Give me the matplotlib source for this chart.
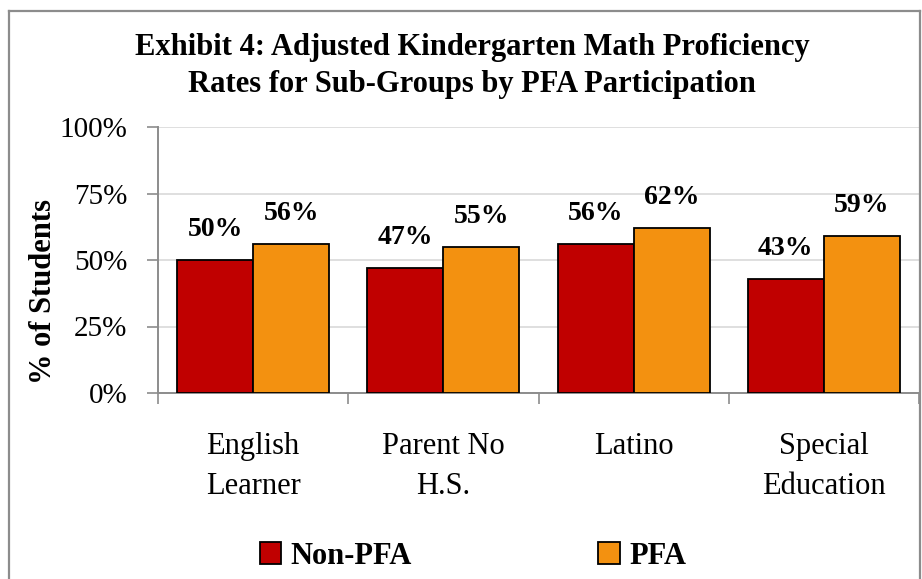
import matplotlib
matplotlib.use("Agg")
import matplotlib.pyplot as plt
import numpy as np
from matplotlib.lines import Line2D

categories = ["English\nLearner", "Parent No\nH.S.", "Latino", "Special\nEducation"]
series_names = ["Non-PFA", "PFA"]
non_pfa = [50, 47, 56, 43]
pfa = [56, 55, 62, 59]
y_ticks = [0, 25, 50, 75, 100]
title = "Exhibit 4: Adjusted Kindergarten Math Proficiency\nRates for Sub-Groups by PFA Participation"
y_label = "% of Students"

plt.rcParams['font.family'] = ['Liberation Serif', 'DejaVu Serif']

W, H = 922, 579
fig = plt.figure(figsize=(W / 100, H / 100), dpi=100)
fig.patch.set_facecolor("white")

# chart border
bc = "#8c8c8c"
fig.add_artist(Line2D([8.5 / W, 8.5 / W], [0, 1 - 10.5 / H], transform=fig.transFigure, color=bc, lw=1.6))
fig.add_artist(Line2D([8.5 / W, 920 / W], [1 - 10.5 / H, 1 - 10.5 / H], transform=fig.transFigure, color=bc, lw=1.6))
fig.add_artist(Line2D([920 / W, 920 / W], [0, 1 - 10.5 / H], transform=fig.transFigure, color=bc, lw=1.6))

ax = fig.add_axes([158 / W, 1 - 393 / H, (919 - 158) / W, (393 - 127) / H])

colors = ["#C00000", "#F39110"]
x = np.arange(len(categories))
bw = 0.4
bars1 = ax.bar(x - bw / 2, non_pfa, bw, color=colors[0], edgecolor="black", linewidth=1.3, label=series_names[0], zorder=3)
bars2 = ax.bar(x + bw / 2, pfa, bw, color=colors[1], edgecolor="black", linewidth=1.3, label=series_names[1], zorder=3)

for bars, vals in ((bars1, non_pfa), (bars2, pfa)):
    for b, v in zip(bars, vals):
        ax.annotate(f"{v}%", (b.get_x() + b.get_width() / 2, v), xytext=(0, 13), textcoords="offset points",
                    ha="center", va="bottom", fontsize=20, fontweight="bold")

ax.set_xlim(-0.5, len(categories) - 0.5)
ax.set_ylim(0, 100)
ax.set_yticks(y_ticks)
ax.set_yticklabels([f"{t}%" for t in y_ticks], fontsize=21)
ax.yaxis.grid(True, color="#d9d9d9", lw=1.2, zorder=0)
ax.set_axisbelow(True)

ax.set_xticks(np.arange(len(categories) + 1) - 0.5)
ax.set_xticklabels([])
ax.set_xticks(x, minor=True)
ax.set_xticklabels(categories, minor=True, fontsize=22, linespacing=1.5)
ax.tick_params(axis="x", which="minor", length=0, pad=28)
ax.tick_params(axis="x", which="major", length=8, color=bc, width=1.2)
ax.tick_params(axis="y", length=8, color=bc, width=1.2, pad=14)

for s in ["top", "right"]:
    ax.spines[s].set_visible(False)
for s in ["left", "bottom"]:
    ax.spines[s].set_color(bc)
    ax.spines[s].set_linewidth(1.4)

ax.set_ylabel(y_label, fontsize=22, fontweight="bold")
ax.yaxis.set_label_coords(-100 / (919 - 158), (393 - 291) / 266)

fig.text(472 / W, 1 - 66 / H, title, ha="center", va="center", fontsize=22, fontweight="bold", linespacing=1.4)

leg = fig.legend(handles=[bars1, bars2], labels=series_names, loc="center", bbox_to_anchor=(473 / W, 1 - 556 / H),
                 ncol=2, frameon=False, prop={"size": 22, "weight": "bold"}, columnspacing=6.1,
                 handlelength=0.7, handleheight=0.7, handletextpad=0.3)

fig.savefig("out.png", dpi=100)
